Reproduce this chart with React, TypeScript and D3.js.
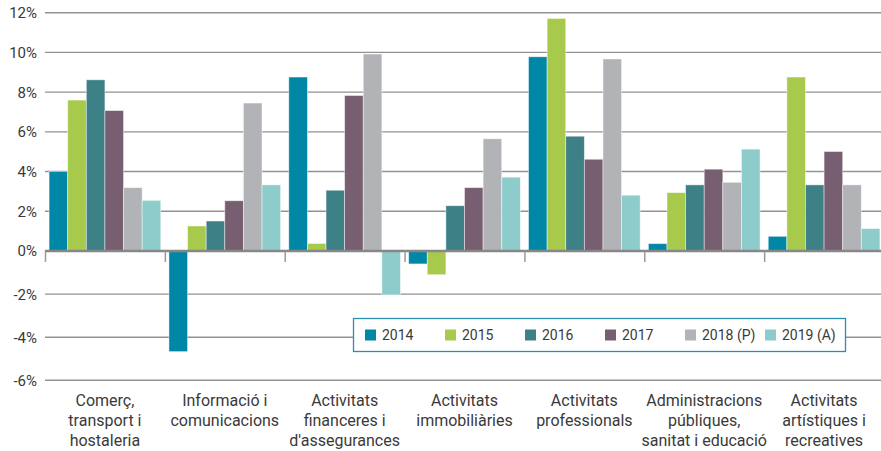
import * as d3 from "d3";
import React from "react";

// sectors (multi-line labels) and yearly growth, %
const categories = [
  ["Comerç,", "transport i", "hostaleria"],
  ["Informació i", "comunicacions"],
  ["Activitats", "financeres i", "d'assegurances"],
  ["Activitats", "immobiliàries"],
  ["Activitats", "professionals"],
  ["Administracions", "públiques,", "sanitat i educació"],
  ["Activitats", "artístiques i", "recreatives"],
];
const years = ["2014", "2015", "2016", "2017", "2018 (P)", "2019 (A)"];
const v2014 = [4.0, -4.67, 8.76, -0.6, 9.78, 0.37, 0.74];
const v2015 = [7.6, 1.26, 0.38, -1.1, 11.71, 2.94, 8.76];
const v2016 = [8.62, 1.51, 3.06, 2.28, 5.78, 3.33, 3.33];
const v2017 = [7.07, 2.53, 7.83, 3.19, 4.62, 4.12, 5.01];
const v2018 = [3.19, 7.45, 9.92, 5.65, 9.67, 3.46, 3.33];
const v2019 = [2.55, 3.33, -2.04, 3.72, 2.81, 5.13, 1.13];
const yTicks = [-6, -4, -2, 0, 2, 4, 6, 8, 10, 12];
const colors = ["#0087a6", "#a8ca4c", "#3d8085", "#775e71", "#b2b3b6", "#8ecccb"];

const series = [v2014, v2015, v2016, v2017, v2018, v2019];

const W = 881;
const H = 451;
const FONT = "Roboto, 'Open Sans', sans-serif";

export default function App() {
  const x0 = d3
    .scaleBand<number>()
    .domain(d3.range(categories.length))
    .range([45, 884]);
  const x1 = d3
    .scaleBand<number>()
    .domain(d3.range(years.length))
    .range([0, x0.bandwidth()])
    .paddingInner(0)
    .paddingOuter(0.22);
  // the source chart uses a slightly taller step below zero
  const y = d3.scaleLinear().domain([-6, 0, 12]).range([380.3, 251, 12.7]);

  const legendX = d3.scaleLinear().domain([0, 1]).range([365, 445]);

  return (
    <svg
      width={W}
      height={H}
      style={{ position: "absolute", left: 0, top: 0, background: "#fff" }}
      fontFamily={FONT}
    >
      {/* grid */}
      <g>
        {yTicks
          .filter((t) => t !== 0)
          .map((t) => (
            <line
              key={t}
              x1={45}
              x2={W}
              y1={y(t)}
              y2={y(t)}
              stroke="#929292"
              strokeWidth={1.4}
            />
          ))}
      </g>
      {/* y labels */}
      <g>
        {yTicks.map((t) => (
          <text
            key={t}
            x={37}
            y={y(t)}
            dy="0.36em"
            textAnchor="end"
            fontSize={15}
            fill="#3a3a3a"
          >
            {t < 0 ? `-${Math.abs(t)}%` : `${t}%`}
          </text>
        ))}
      </g>
      {/* bars */}
      <g>
        {categories.map((_, ci) => (
          <g key={ci} transform={`translate(${x0(ci)},0)`}>
            {series.map((vals, si) => {
              const v = vals[ci];
              const y0 = y(Math.max(0, v));
              const h = Math.abs(y(v) - y(0));
              return (
                <rect
                  key={si}
                  x={x1(si)}
                  y={y0}
                  width={x1.bandwidth()}
                  height={h}
                  fill={colors[si]}
                  stroke="#ffffff"
                  strokeOpacity={0.55}
                  strokeWidth={0.8}
                />
              );
            })}
          </g>
        ))}
      </g>
      {/* zero axis and category ticks */}
      <line x1={45} x2={W} y1={y(0)} y2={y(0)} stroke="#878787" strokeWidth={2.6} />
      {categories.map((_, ci) => (
        <line
          key={ci}
          x1={(x0(ci) as number) + 0.5}
          x2={(x0(ci) as number) + 0.5}
          y1={y(0)}
          y2={y(0) + 11}
          stroke="#9a9a9a"
          strokeWidth={1.5}
        />
      ))}
      {/* category labels */}
      <g>
        {categories.map((lines, ci) => (
          <text
            key={ci}
            x={(x0(ci) as number) + x0.bandwidth() / 2}
            textAnchor="middle"
            fontSize={16}
            fill="#3a3a3a"
          >
            {lines.map((l, li) => (
              <tspan key={li} x={(x0(ci) as number) + x0.bandwidth() / 2} y={406 + li * 20}>
                {l}
              </tspan>
            ))}
          </text>
        ))}
      </g>
      {/* legend */}
      <g>
        <rect
          x={353.5}
          y={318.5}
          width={492}
          height={33}
          fill="#fff"
          stroke="#2a8fb0"
          strokeWidth={1.3}
        />
        {years.map((yr, i) => (
          <g key={yr} transform={`translate(${legendX(i)},335)`}>
            <rect x={0} y={-5.5} width={11} height={11} fill={colors[i]} />
            <text x={17} dy="0.36em" fontSize={14} fill="#3a3a3a">
              {yr}
            </text>
          </g>
        ))}
      </g>
    </svg>
  );
}
